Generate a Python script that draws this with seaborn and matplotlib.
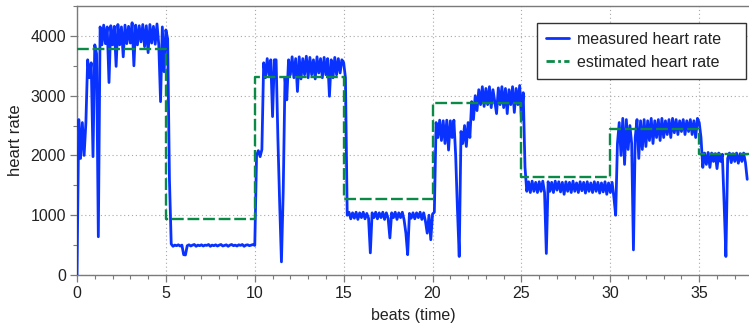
import numpy as np
import pandas as pd
import seaborn as sns
import matplotlib
matplotlib.use("Agg")
import matplotlib.pyplot as plt
from matplotlib.lines import Line2D

# ---------------- data ----------------
sample_step = 0.1  # beats between measured samples

measured_hr = [
    # 0.0 - 0.9
    0, 2600, 1950, 2550, 2000, 2550, 3600, 3300, 3550, 1980,
    # 1.0 - 1.9
    3850, 3700, 640, 4150, 3850, 4180, 3870, 4150, 3220, 4170,
    # 2.0 - 2.9
    3850, 4160, 3490, 4190, 3850, 4150, 3650, 4180, 3870, 4160,
    # 3.0 - 3.9
    3880, 4220, 3500, 4180, 3850, 4170, 3900, 4190, 3820, 4170,
    # 4.0 - 4.9
    3720, 4190, 3880, 4160, 3860, 4200, 3850, 2900, 4150, 3400,
    # 5.0 - 5.9
    4100, 3950, 1600, 520, 480, 500, 490, 505, 485, 500,
    # 6.0 - 6.9
    340, 335, 490, 505, 485, 500, 510, 480, 500, 490,
    # 7.0 - 7.9
    505, 485, 500, 495, 510, 480, 500, 490, 505, 485,
    # 8.0 - 8.9
    500, 510, 485, 495, 505, 480, 500, 510, 490, 500,
    # 9.0 - 9.9
    485, 505, 495, 510, 480, 500, 505, 490, 500, 510,
    # 10.0 - 10.9
    495, 2000, 2080, 1980, 2100, 3550, 3300, 3620, 3350, 3600,
    # 11.0 - 11.9
    2650, 3600, 3600, 2290, 1200, 220, 1400, 3300, 2930, 3600,
    # 12.0 - 12.9
    3350, 3650, 3300, 3620, 3070, 3650, 3280, 3620, 3350, 3660,
    # 13.0 - 13.9
    3300, 3640, 3350, 3600, 3280, 3650, 3380, 3620, 3300, 3640,
    # 14.0 - 14.9
    3350, 3620, 2990, 3600, 3300, 3640, 3350, 3620, 3380, 3600,
    # 15.0 - 15.9
    3550, 3300, 1000, 1050, 940, 1040, 950, 1050, 930, 1040,
    # 16.0 - 16.9
    960, 1050, 940, 1030, 950, 370, 1040, 960, 1050, 940,
    # 17.0 - 17.9
    1040, 960, 1050, 930, 1040, 950, 620, 1040, 960, 1050,
    # 18.0 - 18.9
    930, 1040, 960, 1050, 920, 700, 340, 1030, 950, 1040,
    # 19.0 - 19.9
    940, 1040, 960, 1050, 930, 1040, 900, 700, 1000, 590,
    # 20.0 - 20.9
    1020, 1050, 2550, 2300, 2590, 2250, 2580, 2200, 2590, 2090,
    # 21.0 - 21.9
    2580, 2300, 2590, 2000, 1100, 310, 2400, 2200, 2500, 2150,
    # 22.0 - 22.9
    2550, 2300, 2900, 2600, 3000, 2750, 3100, 2850, 3150, 2820,
    # 23.0 - 23.9
    3120, 2850, 3150, 2800, 3100, 2900, 2700, 3130, 2850, 3150,
    # 24.0 - 24.9
    2800, 3120, 2700, 3100, 2850, 3150, 2720, 3120, 2850, 3170,
    # 25.0 - 25.9
    2600, 3050, 1800, 1400, 1560, 1380, 1570, 1400, 1550, 1380,
    # 26.0 - 26.9
    1560, 1400, 1570, 1380, 360, 1560, 1400, 1550, 1380, 1570,
    # 27.0 - 27.9
    1420, 1560, 1390, 1550, 1350, 1560, 1400, 1550, 1380, 1570,
    # 28.0 - 28.9
    1400, 1540, 1380, 1560, 1410, 1550, 1370, 1560, 1400, 1540,
    # 29.0 - 29.9
    1380, 1560, 1400, 1550, 1370, 1540, 1390, 1560, 1350, 1540,
    # 30.0 - 30.9
    1380, 1550, 1300, 1000, 2200, 2550, 2000, 2620, 1850, 2600,
    # 31.0 - 31.9
    2100, 2500, 2200, 420, 2300, 2600, 1950, 2580, 2100, 2600,
    # 32.0 - 32.9
    2150, 2580, 2250, 2620, 2200, 2580, 2300, 2600, 2250, 2620,
    # 33.0 - 33.9
    2300, 2580, 2350, 2600, 2300, 2620, 2380, 2600, 2350, 2580,
    # 34.0 - 34.9
    2400, 2600, 2350, 2580, 2400, 2600, 2350, 2580, 2300, 2620,
    # 35.0 - 35.9
    2550, 2300, 1800, 2040, 1850, 2050, 1800, 2040, 1900, 2030,
    # 36.0 - 36.9
    1780, 2040, 1900, 2020, 1200, 310, 1950, 2040, 1880, 2030,
    # 37.0 - 37.7
    1900, 2040, 1870, 2030, 1900, 2040, 1880, 1600,
]

estimated_t = [0, 5, 10, 15, 20, 25, 30, 35, 37.8]
estimated_hr = [3780, 940, 3320, 1270, 2870, 1640, 2450, 2030, 2030]

x_ticks = [0, 5, 10, 15, 20, 25, 30, 35]
y_ticks = [0, 1000, 2000, 3000, 4000]
x_label = "beats (time)"
y_label = "heart rate"
legend_labels = ["measured heart rate", "estimated heart rate"]

# ---------------- frames ----------------
measured = pd.DataFrame({
    "beat": np.arange(len(measured_hr)) * sample_step,
    "hr": measured_hr,
})
estimated = pd.DataFrame({"beat": estimated_t, "hr": estimated_hr})

# ---------------- style ----------------
sns.set_theme(style="ticks")
plt.rcParams["font.family"] = ["Liberation Sans", "DejaVu Sans"]

blue = "#0a32ff"
green = "#0a8a46"
grey = "#7a7a7a"
text_col = "#222222"

fig = plt.figure(figsize=(7.49, 3.34), dpi=100)
ax = fig.add_axes([77 / 749, 1 - 275 / 334, 1 - 77 / 749, (275 - 6) / 334])

sns.lineplot(data=measured, x="beat", y="hr", ax=ax, color=blue,
             linewidth=2.0, errorbar=None, sort=False, zorder=3)
sns.lineplot(data=estimated, x="beat", y="hr", ax=ax, color=green,
             linewidth=1.7, errorbar=None, drawstyle="steps-post",
             dashes=False, zorder=4)
ax.lines[-1].set_dashes([5, 1.6])

ax.set_xlim(0, 37.8)
ax.set_ylim(0, 4500)
ax.set_xticks(x_ticks)
ax.set_yticks(y_ticks)
ax.set_xticks(np.arange(0, 38, 1), minor=True)
ax.set_yticks(np.arange(0, 4501, 500), minor=True)
ax.set_xticklabels([str(v) for v in x_ticks])
ax.set_yticklabels([str(v) for v in y_ticks])

ax.grid(True, which="major", color="#a8a8a8", linestyle=(0, (1, 2.5)),
        linewidth=0.8, zorder=0)
ax.set_axisbelow(True)

for side in ["left", "bottom", "top"]:
    ax.spines[side].set_color(grey)
    ax.spines[side].set_linewidth(1.0)
ax.spines["right"].set_visible(False)

ax.tick_params(axis="both", which="major", direction="out", length=5,
               width=0.9, color=grey, labelsize=11.5, labelcolor=text_col,
               pad=3)
ax.tick_params(axis="both", which="minor", direction="out", length=3,
               width=0.8, color=grey)

ax.set_xlabel(x_label, fontsize=11.5, color=text_col, labelpad=5)
ax.set_ylabel(y_label, fontsize=12, color=text_col, labelpad=5)

handles = [
    Line2D([], [], color=blue, linewidth=2.0),
    Line2D([], [], color=green, linewidth=2.0, linestyle=(0, (3, 1.2, 1, 1.2))),
]
leg = ax.legend(handles, legend_labels, loc="upper left",
                bbox_to_anchor=(537 / 749, 1 - 23 / 334, 209 / 749, 0),
                bbox_transform=fig.transFigure, mode="expand",
                fontsize=11.5, frameon=True, fancybox=False, framealpha=1,
                edgecolor="#333333", handlelength=1.45, borderpad=0.55,
                labelspacing=0.5, handletextpad=0.5, borderaxespad=0)
leg.get_frame().set_linewidth(1.0)
for t in leg.get_texts():
    t.set_color(text_col)

fig.savefig("out.png", dpi=100)
